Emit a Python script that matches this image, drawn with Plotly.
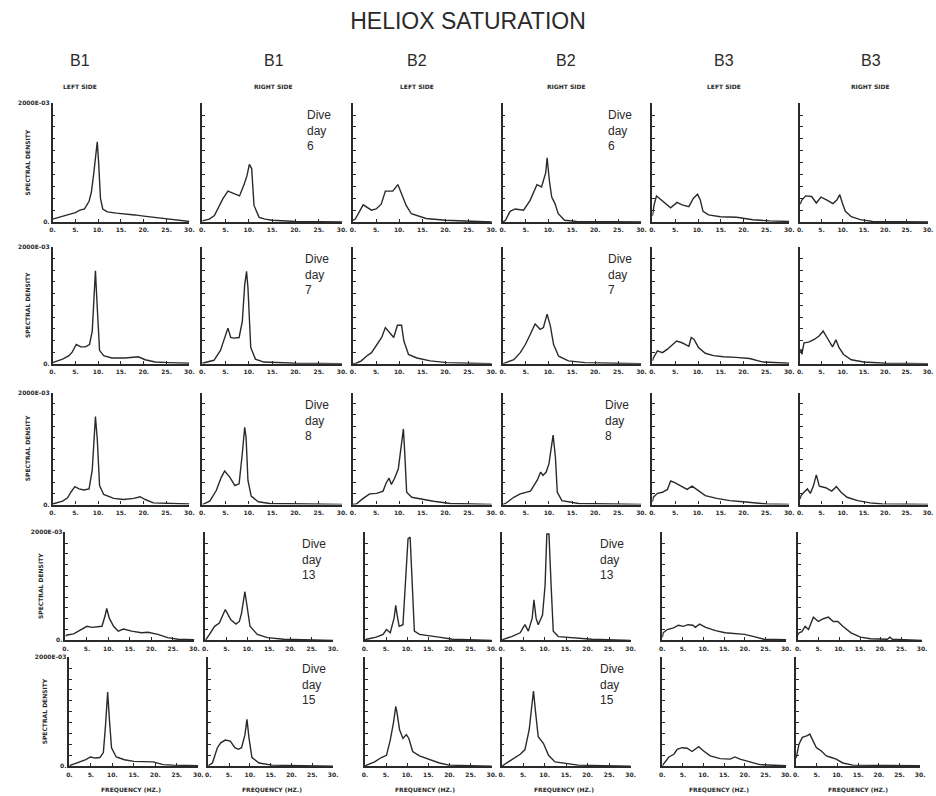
import plotly.graph_objects as go

# ---------------- text / categories ----------------
TITLE = "HELIOX SATURATION"
boards = ["B1", "B1", "B2", "B2", "B3", "B3"]
sides = ["LEFT SIDE", "RIGHT SIDE", "LEFT SIDE", "RIGHT SIDE", "LEFT SIDE", "RIGHT SIDE"]
dive_days = [6, 7, 8, 13, 15]
x_tick_vals = [0, 5, 10, 15, 20, 25, 30]
x_tick_text = ["0.", "5.", "10.", "15.", "20.", "25.", "30."]
y_tick_vals = [0, 0.2, 0.4, 0.6, 0.8, 1.0, 1.2, 1.4, 1.6, 1.8, 2.0]
y_tick_text = ["0.", "", "", "", "", "", "", "", "", "", "2000E-03"]
y_title = "SPECTRAL DENSITY"
x_title = "FREQUENCY (HZ.)"

# ---------------- spectra (frequency Hz, spectral density) ----------------
# Row 1 : dive day 6
f_r1c1 = [0, 1, 2, 3, 4, 5, 6, 7, 8, 8.5, 9, 9.5, 9.8, 10.1, 10.5, 11, 12, 14, 16, 18, 20, 22, 24, 26, 28, 30]
s_r1c1 = [0.05, 0.07, 0.09, 0.11, 0.13, 0.16, 0.2, 0.22, 0.35, 0.5, 0.8, 1.1, 1.35, 1.0, 0.4, 0.22, 0.17, 0.15, 0.14, 0.12, 0.1, 0.08, 0.06, 0.04, 0.02, 0.01]
f_r1c2 = [0, 1.5, 2.6, 3.5, 4.4, 5.5, 6.9, 8, 9, 9.6, 10.1, 10.6, 11.1, 12.2, 13.5, 15, 20, 30]
s_r1c2 = [0.02, 0.05, 0.11, 0.25, 0.39, 0.52, 0.47, 0.44, 0.64, 0.78, 0.97, 0.9, 0.28, 0.08, 0.05, 0.03, 0.01, 0]
f_r1c3 = [0, 0.5, 2.2, 4, 5, 6.1, 7, 8.6, 9.7, 10.4, 11.5, 12.6, 13.7, 15.8, 20, 25, 30]
s_r1c3 = [0.03, 0.05, 0.29, 0.2, 0.22, 0.3, 0.52, 0.52, 0.63, 0.5, 0.28, 0.14, 0.11, 0.06, 0.03, 0.01, 0]
f_r1c4 = [0, 0.6, 1.6, 2.7, 4.5, 5.9, 7.4, 8.4, 9.3, 9.6, 10.1, 10.6, 11.3, 12, 13.4, 16, 30]
s_r1c4 = [0.0, 0.03, 0.18, 0.22, 0.2, 0.36, 0.63, 0.59, 0.83, 1.08, 0.69, 0.42, 0.31, 0.14, 0.03, 0.01, 0]
f_r1c5 = [0, 0.4, 0.9, 2.2, 4, 5.4, 6.5, 8, 9, 9.9, 10.5, 11.1, 12.3, 14.9, 18.5, 22, 25.7, 30]
s_r1c5 = [0.1, 0.3, 0.44, 0.36, 0.24, 0.33, 0.29, 0.26, 0.4, 0.47, 0.37, 0.18, 0.12, 0.09, 0.08, 0.04, 0.02, 0.01]
f_r1c6 = [0, 0.4, 1.3, 2.7, 3.8, 4.9, 6.3, 7.7, 8.6, 9.3, 9.9, 10.6, 12, 14.1, 17, 30]
s_r1c6 = [0.3, 0.37, 0.44, 0.43, 0.32, 0.42, 0.37, 0.31, 0.37, 0.46, 0.32, 0.18, 0.09, 0.04, 0.01, 0]

# Row 2 : dive day 7
f_r2c1 = [0, 0.4, 2.2, 3.6, 4.3, 5.2, 6.2, 7.2, 8.1, 8.7, 9.1, 9.4, 9.8, 10.3, 11.2, 13, 15.9, 17.4, 18.8, 20.3, 22.5, 25.4, 30]
s_r2c1 = [0.02, 0.03, 0.08, 0.14, 0.2, 0.33, 0.29, 0.29, 0.33, 0.56, 1.3, 1.59, 0.96, 0.23, 0.14, 0.1, 0.1, 0.11, 0.12, 0.07, 0.03, 0.02, 0.01]
f_r2c2 = [0, 0.4, 2.5, 3.9, 5, 5.5, 6.1, 6.8, 7.9, 8.6, 9.1, 9.5, 9.8, 10.4, 11.4, 13.2, 20, 30]
s_r2c2 = [0.01, 0.02, 0.06, 0.23, 0.51, 0.61, 0.45, 0.44, 0.45, 0.73, 1.35, 1.58, 1.3, 0.28, 0.08, 0.03, 0.01, 0]
f_r2c3 = [0, 0.7, 1.8, 2.9, 4, 4.7, 5.4, 6.2, 7, 8, 8.8, 9.6, 10.5, 11, 12, 13.8, 16.7, 20.3, 25, 30]
s_r2c3 = [0, 0.01, 0.05, 0.13, 0.19, 0.28, 0.36, 0.45, 0.62, 0.53, 0.45, 0.66, 0.66, 0.39, 0.16, 0.1, 0.05, 0.02, 0.01, 0]
f_r2c4 = [0, 0.6, 2.4, 3.8, 4.9, 6, 7, 8.1, 8.8, 9.6, 10.3, 11, 12.1, 14.2, 17.8, 30]
s_r2c4 = [0, 0.02, 0.07, 0.19, 0.33, 0.51, 0.68, 0.59, 0.62, 0.85, 0.65, 0.33, 0.13, 0.05, 0.02, 0]
f_r2c5 = [0, 0.2, 1.1, 2.2, 3.3, 4.3, 5.3, 6.5, 8, 8.5, 9.1, 10.1, 11.6, 13.4, 15.6, 18.3, 21.3, 24.3, 30]
s_r2c5 = [0.05, 0.1, 0.22, 0.19, 0.25, 0.32, 0.39, 0.36, 0.3, 0.45, 0.42, 0.28, 0.18, 0.14, 0.12, 0.11, 0.09, 0.03, 0.01]
f_r2c6 = [0, 0.2, 0.4, 0.9, 2, 3.4, 4.5, 5.4, 6.3, 7.6, 8.4, 9.1, 10.2, 12, 14.9, 20, 30]
s_r2c6 = [0.2, 0.25, 0.16, 0.36, 0.37, 0.42, 0.48, 0.56, 0.45, 0.29, 0.41, 0.28, 0.16, 0.07, 0.03, 0.01, 0]

# Row 3 : dive day 8
f_r3c1 = [0, 0.4, 2.2, 3.3, 4, 4.9, 5.8, 6.9, 8, 8.7, 9.1, 9.4, 9.8, 10.3, 11.2, 13.4, 15.6, 17.8, 19.2, 20.3, 22.1, 25, 30]
s_r3c1 = [0.01, 0.02, 0.06, 0.12, 0.22, 0.32, 0.28, 0.26, 0.28, 0.62, 1.11, 1.57, 1.17, 0.34, 0.18, 0.11, 0.09, 0.11, 0.14, 0.09, 0.03, 0.02, 0.01]
f_r3c2 = [0, 0.3, 1.6, 3, 4.1, 4.8, 5.9, 7, 7.9, 8.6, 9.1, 9.4, 9.8, 10.5, 12, 14.5, 30]
s_r3c2 = [0, 0.01, 0.06, 0.25, 0.49, 0.6, 0.49, 0.34, 0.37, 0.92, 1.38, 1.2, 0.43, 0.15, 0.05, 0.02, 0]
f_r3c3 = [0, 0.7, 2.2, 3.6, 5.1, 6.5, 7.2, 7.8, 8.3, 9, 9.8, 10.4, 10.9, 11.2, 11.6, 12.7, 14.5, 17.4, 21, 30]
s_r3c3 = [0, 0.01, 0.11, 0.19, 0.2, 0.24, 0.39, 0.47, 0.36, 0.47, 0.64, 1.01, 1.35, 0.9, 0.22, 0.13, 0.1, 0.06, 0.02, 0]
f_r3c4 = [0, 0.6, 2.4, 3.8, 6, 7.5, 8.2, 8.7, 9.4, 10, 10.9, 11.4, 11.8, 12.8, 16.4, 30]
s_r3c4 = [0, 0.02, 0.13, 0.19, 0.24, 0.44, 0.58, 0.52, 0.58, 0.73, 1.24, 0.84, 0.22, 0.07, 0.02, 0]
f_r3c5 = [0, 0.2, 1.1, 2.2, 3.3, 4, 4.9, 6.2, 7.6, 8.7, 10.1, 11.6, 14.1, 17, 19.9, 22.8, 25, 30]
s_r3c5 = [0.05, 0.13, 0.2, 0.22, 0.27, 0.42, 0.39, 0.33, 0.27, 0.33, 0.25, 0.16, 0.11, 0.07, 0.05, 0.02, 0.01, 0]
f_r3c6 = [0, 0.2, 0.9, 1.7, 2.4, 3.1, 3.8, 4.5, 6, 7.4, 8.5, 9.6, 11, 13.5, 16.4, 19.3, 30]
s_r3c6 = [0.1, 0.16, 0.22, 0.28, 0.2, 0.33, 0.53, 0.33, 0.3, 0.24, 0.32, 0.22, 0.13, 0.07, 0.03, 0.01, 0]

# Row 4 : dive day 13
f_r4c1 = [0, 0.4, 1.9, 3.8, 5, 6.2, 8.5, 9.2, 9.6, 10.2, 11.2, 12.3, 13.5, 15.4, 17.7, 19.2, 21.5, 23.8, 26.2, 30]
s_r4c1 = [0.08, 0.1, 0.12, 0.2, 0.26, 0.24, 0.26, 0.45, 0.59, 0.41, 0.26, 0.17, 0.21, 0.17, 0.14, 0.15, 0.11, 0.05, 0.02, 0.01]
f_r4c2 = [0, 0.2, 1, 2.2, 3.3, 4.7, 6, 7.2, 8, 8.5, 9.3, 9.8, 10.5, 12.2, 14.6, 18.4, 30]
s_r4c2 = [0.01, 0.02, 0.11, 0.26, 0.32, 0.57, 0.38, 0.3, 0.35, 0.5, 0.9, 0.66, 0.26, 0.11, 0.05, 0.02, 0]
f_r4c3 = [0, 0.4, 2.7, 4.3, 5.1, 6, 6.9, 7.3, 7.6, 8.1, 9, 9.6, 10.2, 10.7, 11.2, 11.7, 12.9, 15.2, 17.5, 20.7, 30]
s_r4c3 = [0, 0.02, 0.06, 0.11, 0.2, 0.14, 0.41, 0.65, 0.48, 0.26, 0.29, 1.02, 1.88, 1.91, 1.02, 0.17, 0.11, 0.09, 0.06, 0.02, 0]
f_r4c4 = [0, 0.4, 2.3, 4.3, 5.4, 6.2, 7.1, 7.5, 8, 8.5, 9.5, 10.1, 10.5, 11, 11.5, 12, 13.2, 16.3, 21, 30]
s_r4c4 = [0, 0.02, 0.07, 0.14, 0.29, 0.17, 0.41, 0.75, 0.41, 0.29, 0.47, 1.02, 1.97, 1.97, 1.02, 0.17, 0.07, 0.05, 0.02, 0]
f_r4c5 = [0, 0.2, 1.2, 2.7, 3.9, 5.1, 6.2, 7.4, 8, 9, 10.5, 12.9, 15.2, 17.5, 19.9, 22.2, 24.6, 30]
s_r4c5 = [0.05, 0.14, 0.2, 0.23, 0.28, 0.26, 0.29, 0.28, 0.24, 0.3, 0.24, 0.18, 0.14, 0.13, 0.11, 0.07, 0.02, 0.01]
f_r4c6 = [0, 0.2, 0.9, 1.7, 2.5, 3.7, 4.9, 6.1, 7.3, 8.5, 9.6, 10.8, 12.8, 15.1, 17.5, 21.6, 22.2, 22.8, 30]
s_r4c6 = [0.1, 0.14, 0.16, 0.26, 0.2, 0.43, 0.35, 0.4, 0.43, 0.35, 0.35, 0.26, 0.14, 0.06, 0.03, 0.02, 0.06, 0.02, 0]

# Row 5 : dive day 15
f_r5c1 = [0, 0.4, 2.3, 3.8, 4.9, 6, 7.1, 7.9, 8.4, 8.9, 9.3, 9.8, 10.9, 12.8, 15, 18, 19.5, 21.8, 24.1, 30]
s_r5c1 = [0.01, 0.02, 0.08, 0.12, 0.17, 0.15, 0.16, 0.25, 0.75, 1.36, 0.86, 0.34, 0.17, 0.12, 0.09, 0.09, 0.08, 0.03, 0.02, 0.01]
f_r5c2 = [0, 0.2, 1, 2.2, 3, 4.1, 5.3, 6.4, 7.2, 8, 8.8, 9.3, 9.8, 10.5, 12.2, 15.3, 30]
s_r5c2 = [0.01, 0.02, 0.06, 0.34, 0.43, 0.48, 0.46, 0.34, 0.31, 0.34, 0.57, 0.86, 0.51, 0.16, 0.06, 0.02, 0]
f_r5c3 = [0, 0.4, 2.3, 3.9, 5.1, 6, 6.8, 7.3, 7.6, 8.2, 9, 9.8, 10.4, 11.3, 12.9, 14.8, 17.6, 19.9, 30]
s_r5c3 = [0, 0.02, 0.08, 0.16, 0.2, 0.48, 0.82, 1.1, 0.98, 0.67, 0.51, 0.58, 0.51, 0.27, 0.19, 0.14, 0.06, 0.02, 0]
f_r5c4 = [0, 0.4, 2.3, 4.3, 5.4, 6.4, 7, 7.4, 7.9, 8.5, 9.7, 10.9, 12.4, 15.5, 17.8, 30]
s_r5c4 = [0, 0.02, 0.12, 0.22, 0.3, 0.67, 1.1, 1.38, 0.98, 0.54, 0.42, 0.2, 0.08, 0.04, 0.02, 0]
f_r5c5 = [0, 0.2, 1.6, 2.8, 3.6, 4.8, 6, 7.2, 8, 8.8, 10, 11.6, 14, 16.4, 17.6, 18.8, 21.2, 23.6, 30]
s_r5c5 = [0.01, 0.03, 0.17, 0.22, 0.31, 0.34, 0.33, 0.27, 0.31, 0.36, 0.28, 0.19, 0.14, 0.13, 0.17, 0.13, 0.08, 0.03, 0.01]
f_r5c6 = [0, 0.2, 0.7, 1.5, 2.7, 3.3, 4.1, 4.9, 6.1, 7.3, 8.5, 9.7, 11.3, 13.7, 30]
s_r5c6 = [0.15, 0.25, 0.41, 0.53, 0.56, 0.59, 0.46, 0.34, 0.28, 0.19, 0.16, 0.13, 0.06, 0.02, 0.01]

spectra = [
    [(f_r1c1, s_r1c1), (f_r1c2, s_r1c2), (f_r1c3, s_r1c3), (f_r1c4, s_r1c4), (f_r1c5, s_r1c5), (f_r1c6, s_r1c6)],
    [(f_r2c1, s_r2c1), (f_r2c2, s_r2c2), (f_r2c3, s_r2c3), (f_r2c4, s_r2c4), (f_r2c5, s_r2c5), (f_r2c6, s_r2c6)],
    [(f_r3c1, s_r3c1), (f_r3c2, s_r3c2), (f_r3c3, s_r3c3), (f_r3c4, s_r3c4), (f_r3c5, s_r3c5), (f_r3c6, s_r3c6)],
    [(f_r4c1, s_r4c1), (f_r4c2, s_r4c2), (f_r4c3, s_r4c3), (f_r4c4, s_r4c4), (f_r4c5, s_r4c5), (f_r4c6, s_r4c6)],
    [(f_r5c1, s_r5c1), (f_r5c2, s_r5c2), (f_r5c3, s_r5c3), (f_r5c4, s_r5c4), (f_r5c5, s_r5c5), (f_r5c6, s_r5c6)],
]

# ---------------- layout geometry (pixels) ----------------
W, H = 936, 796
col_px = [
    [(50, 188), (201, 342), (353, 493), (504, 644), (655, 793), (804, 933)],
    [(50, 188), (201, 342), (353, 493), (504, 644), (655, 793), (804, 933)],
    [(50, 188), (201, 342), (353, 493), (504, 644), (655, 793), (804, 933)],
    [(63, 193), (204, 333), (365, 493), (503, 633), (665, 790), (802, 927)],
    [(67, 197), (207, 333), (365, 493), (503, 633), (665, 790), (800, 925)],
]
row_px = [(100, 220), (245, 363), (392, 505), (533, 642), (659, 769)]
header_x = [78, 273, 418, 568, 727, 875]
freq_label_x = [129, 271, 426, 566, 722, 862]
dive_x = [(305, 608), (303, 608), (303, 605), (300, 600), (300, 600)]

INK = "#2a2a2a"
TINY = dict(family="DejaVu Sans", size=6, color=INK, weight="bold")


def px_x(p):
    return p / W


def px_y(p):
    return 1 - p / H


fig = go.Figure()
layout_axes = {}
annotations = []

idx = 0
for r in range(5):
    for c in range(6):
        idx += 1
        f, s = spectra[r][c]
        xa = "x" if idx == 1 else f"x{idx}"
        ya = "y" if idx == 1 else f"y{idx}"
        fig.add_trace(go.Scatter(x=f, y=s, mode="lines", xaxis=xa, yaxis=ya,
                                 line=dict(color=INK, width=1.4), showlegend=False,
                                 hoverinfo="skip"))
        x0, x1 = col_px[r][c]
        y0, y1 = row_px[r]
        xkey = "xaxis" if idx == 1 else f"xaxis{idx}"
        ykey = "yaxis" if idx == 1 else f"yaxis{idx}"
        layout_axes[xkey] = dict(
            domain=[px_x(x0), px_x(x1)], anchor=ya, range=[0, 30],
            showgrid=False, zeroline=False, showline=True, linecolor=INK, linewidth=2.2,
            tickmode="array", tickvals=x_tick_vals, ticktext=x_tick_text,
            ticks="inside", ticklen=3, tickcolor=INK, tickfont=TINY, ticklabelstandoff=1,
            fixedrange=True,
        )
        layout_axes[ykey] = dict(
            domain=[px_y(y1), px_y(y0)], anchor=xa, range=[0, 2.0],
            showgrid=False, zeroline=False, showline=True, linecolor=INK, linewidth=1.5,
            tickmode="array", tickvals=y_tick_vals, ticktext=y_tick_text,
            showticklabels=(c == 0),
            ticks="inside", ticklen=3, tickwidth=1, tickcolor=INK, tickfont=TINY,
            fixedrange=True,
        )
        if c == 0:
            annotations.append(dict(
                x=px_x(x0 - 25), y=px_y((y0 + y1) / 2), xref="paper", yref="paper",
                text=y_title, textangle=-90, showarrow=False, font=TINY,
                xanchor="center", yanchor="middle"))

# column headers and frequency labels
for c in range(6):
    annotations.append(dict(x=px_x(header_x[c]), y=px_y(57), xref="paper", yref="paper",
                            text=boards[c], showarrow=False,
                            font=dict(family="Liberation Sans", size=16, color=INK),
                            xanchor="center", yanchor="middle"))
    annotations.append(dict(x=px_x(header_x[c]), y=px_y(83), xref="paper", yref="paper",
                            text=sides[c], showarrow=False, font=TINY,
                            xanchor="center", yanchor="middle"))
    annotations.append(dict(x=px_x(freq_label_x[c]), y=px_y(792), xref="paper", yref="paper",
                            text=x_title, showarrow=False, font=TINY,
                            xanchor="center", yanchor="middle"))

# dive-day labels (columns 2 and 4)
for r in range(5):
    for xp in dive_x[r]:
        annotations.append(dict(x=px_x(xp), y=px_y(row_px[r][0] + 3), xref="paper", yref="paper",
                                text=f"Dive<br>day<br>{dive_days[r]}", showarrow=False, align="left",
                                font=dict(family="Liberation Sans", size=12, color=INK),
                                xanchor="left", yanchor="top"))

fig.update_layout(
    width=W, height=H, margin=dict(l=0, r=0, t=0, b=0),
    paper_bgcolor="white", plot_bgcolor="white",
    title=dict(text=TITLE, x=0.5, xanchor="center", y=1 - 21 / H, yanchor="middle",
               font=dict(family="Liberation Sans", size=23, color=INK)),
    annotations=annotations,
    **layout_axes,
)

fig.write_html("out.html")
